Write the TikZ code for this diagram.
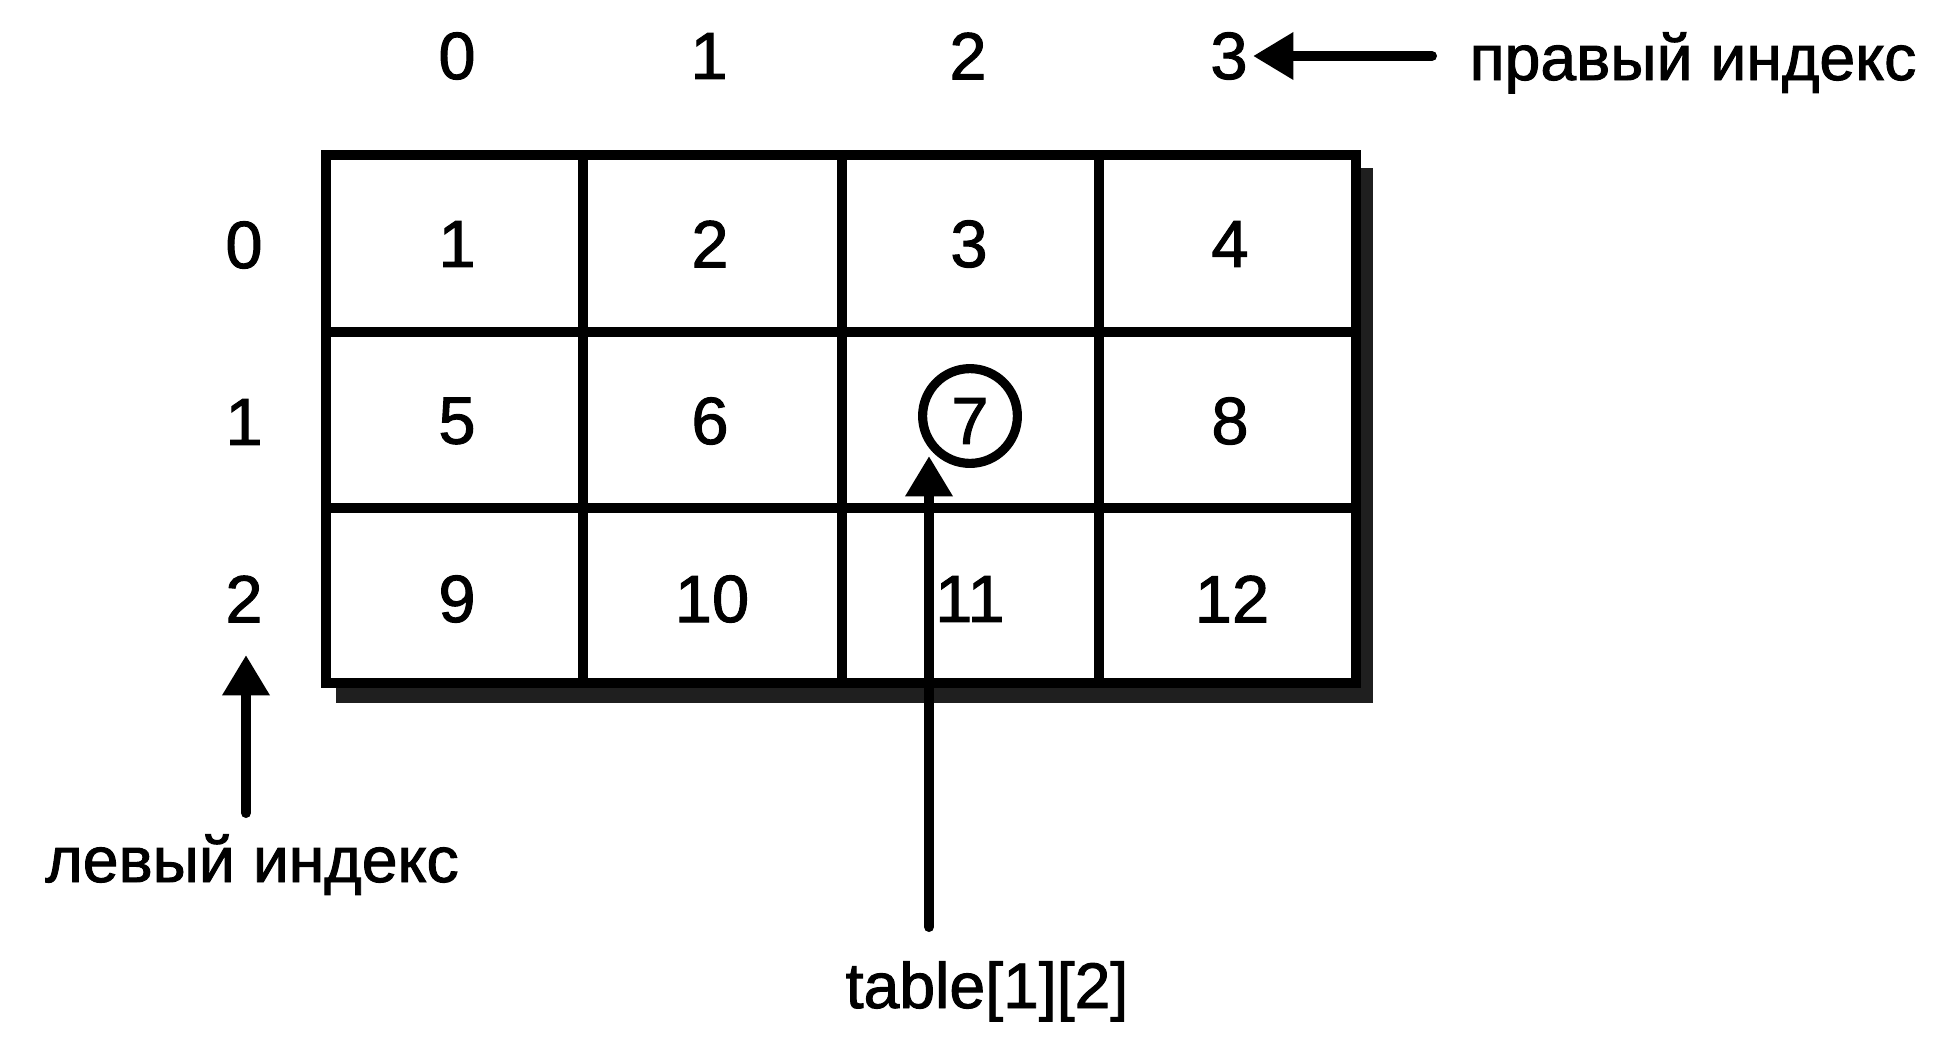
\documentclass[tikz,border=0pt]{standalone}
\usepackage{fontspec}
\setmainfont[FakeBold=1.5]{Liberation Sans}
\usetikzlibrary{arrows.meta}
\begin{document}
\begin{tikzpicture}[x=0.01cm,y=-0.01cm,
  txt/.style={inner sep=0pt, font=\fontsize{19}{22}\selectfont},
  lbl/.style={inner sep=0pt, anchor=base, font=\fontsize{18.3}{22}\selectfont},
  gridline/.style={line width=2.85pt, line cap=rect},
  arr/.style={line width=2.85pt, line cap=round, -{Triangle[width=12.8pt,length=11.5pt]}},
  ring/.style={circle, draw, line width=2.6pt, minimum size=2.7cm/2.85, inner sep=0pt}]
\useasboundingbox (0,0) rectangle (1941,1060);
% shadow and frame
\fill[black!88] (336,168) rectangle (1373,703);
\filldraw[fill=white, gridline] (326,155) rectangle (1356,683);
\foreach \x in {583,842,1099} \draw[gridline] (\x,155) -- (\x,683);
\foreach \y in {332,508} \draw[gridline] (326,\y) -- (1356,\y);
% column indices
\node[txt] (k0) at (457,56) {0};
\node[txt] (k1) at (709,56) {1};
\node[txt] (k2) at (968,56) {2};
\node[txt] (k3) at (1229,56) {3};
% row indices
\node[txt] (r0) at (244,245) {0};
\node[txt] (r1) at (244,422) {1};
\node[txt] (r2) at (244,599) {2};
% cells
\node[txt] (c00) at (457,244) {1};
\node[txt] (c01) at (710,244) {2};
\node[txt] (c02) at (969,244) {3};
\node[txt] (c03) at (1230,244) {4};
\node[txt] (c10) at (457,421) {5};
\node[txt] (c11) at (710,421) {6};
\node[txt] (c12) at (970,421) {7};
\node[txt] (c13) at (1230,421) {8};
\node[txt] (c20) at (457,599) {9};
\node[txt] (c21) at (712,599) {10};
\node[txt] (c22) at (970,599) {11};
\node[txt] (c23) at (1232,599) {12};
\node[ring] (ring) at (970,416) {};
% labels
\node[lbl] (right) at (1693,80) {правый индекс};
\node[lbl] (left) at (252,882) {левый индекс};
\node[lbl] (tbl) at (987,1008) {table[1][2]};
% arrows
\coordinate (ra0) at (1432,56);
\coordinate (ra1) at (1253,56);
\coordinate (la0) at (246,813);
\coordinate (la1) at (246,655);
\coordinate (ta0) at (929,927);
\coordinate (ta1) at (929,456);
\draw[arr] (ra0) -- (ra1);
\draw[arr] (la0) -- (la1);
\draw[arr] (ta0) -- (ta1);
\end{tikzpicture}
\end{document}
